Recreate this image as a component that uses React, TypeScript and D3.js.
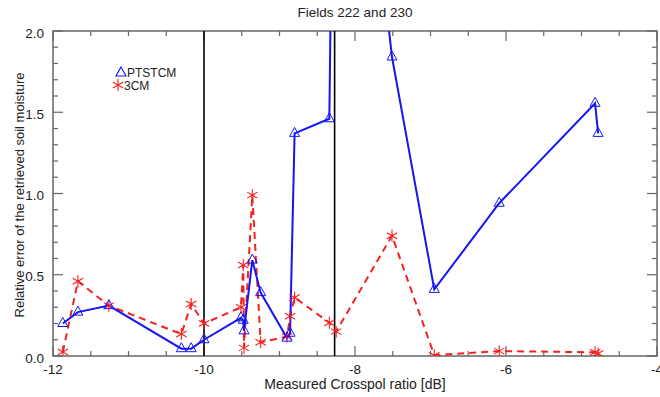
import React from "react";
import * as d3 from "d3";

const crosspol = [-11.87, -11.67, -11.26, -10.3, -10.17, -10.0, -9.51, -9.48, -9.47, -9.36, -9.25, -8.9, -8.86, -8.8, -8.34, -8.25, -7.51, -6.95, -6.09, -4.82, -4.78];
const ptstcm = [0.2, 0.27, 0.31, 0.045, 0.045, 0.1, 0.235, 0.22, 0.155, 0.59, 0.39, 0.11, 0.14, 1.37, 1.46, 4.9, 1.84, 0.41, 0.94, 1.555, 1.37];
const cm3 = [0.025, 0.46, 0.31, 0.135, 0.32, 0.2, 0.3, 0.56, 0.05, 0.99, 0.085, 0.12, 0.245, 0.36, 0.205, 0.15, 0.74, 0.005, 0.03, 0.023, 0.015];
const refLines = [-10.0, -8.27];
const xTicks = [-12, -10, -8, -6, -4];
const yTicks = [0, 0.5, 1.0, 1.5, 2.0];
const seriesNames = ["PTSTCM", "3CM"];
const title = "Fields 222 and 230";
const xTitle = "Measured Crosspol ratio [dB]";
const yTitle = "Relative error of the retrieved soil moisture";

const W = 660, H = 397;
const L = 53, R = 657, T = 31, B = 356;
const BLUE = "#1515f5";
const RED = "#f52020";
const FONT = "'Liberation Sans', Arial, Helvetica, sans-serif";

function triPath(cx: number, cy: number) {
  return `M${cx},${cy - 6}L${cx + 5},${cy + 3}L${cx - 5},${cy + 3}Z`;
}
function starPath(cx: number, cy: number) {
  const r = 6;
  let p = "";
  for (const a of [90, 30, 150]) {
    const rad = (a * Math.PI) / 180;
    const dx = r * Math.cos(rad), dy = r * Math.sin(rad);
    p += `M${cx - dx},${cy - dy}L${cx + dx},${cy + dy}`;
  }
  return p;
}

export default function App() {
  const x = d3.scaleLinear().domain([-12, -4]).range([L, R]);
  const y = d3.scaleLinear().domain([0, 2]).range([B, T]);
  const blueData = crosspol.map((c, i) => [c, ptstcm[i]] as [number, number]);
  const redData = crosspol.map((c, i) => [c, cm3[i]] as [number, number]);
  const line = d3.line<[number, number]>().x((d) => x(d[0])).y((d) => y(d[1]));

  const xMinor = d3.range(-12, -4 + 0.001, 0.5);
  const yMinor = d3.range(0, 2.0001, 0.1);
  const frame = "#666";

  return (
    <svg width={W} height={H} style={{ position: "absolute", left: 0, top: 0, background: "#fff" }} fontFamily={FONT}>
      <defs>
        <clipPath id="plotclip">
          <rect x={L} y={T} width={R - L} height={B - T} />
        </clipPath>
      </defs>
      <rect x={0} y={0} width={W} height={H} fill="#fff" />
      {xMinor.map((v, i) => {
        const major = xTicks.some((t) => Math.abs(t - v) < 1e-6);
        const len = major ? 10 : 5;
        return (
          <g key={"xt" + i} stroke={frame} strokeWidth={1.2}>
            <line x1={x(v)} x2={x(v)} y1={B} y2={B - len} />
            <line x1={x(v)} x2={x(v)} y1={T} y2={T + len} />
          </g>
        );
      })}
      {yMinor.map((v, i) => {
        const major = yTicks.some((t) => Math.abs(t - v) < 1e-6);
        const len = major ? 10 : 5;
        return (
          <g key={"yt" + i} stroke={frame} strokeWidth={1.2}>
            <line x1={L} x2={L + len} y1={y(v)} y2={y(v)} />
            <line x1={R} x2={R - len} y1={y(v)} y2={y(v)} />
          </g>
        );
      })}
      <rect x={L} y={T} width={R - L} height={B - T} fill="none" stroke={frame} strokeWidth={1.5} />
      {xTicks.map((v) => (
        <text key={"xl" + v} x={x(v)} y={B + 18} textAnchor="middle" fontSize={13.5} fill="#222">
          {v}
        </text>
      ))}
      {yTicks.map((v) => (
        <text key={"yl" + v} x={L - 9} y={y(v) + 6.5} textAnchor="end" fontSize={13.5} fill="#222">
          {v.toFixed(1)}
        </text>
      ))}
      {refLines.map((v) => (
        <line key={"rl" + v} x1={x(v)} x2={x(v)} y1={T} y2={B} stroke="#000" strokeWidth={1.6} />
      ))}
      <g clipPath="url(#plotclip)">
        <path d={line(redData) || ""} fill="none" stroke={RED} strokeWidth={2} strokeDasharray="7,5" />
        <path d={line(blueData) || ""} fill="none" stroke={BLUE} strokeWidth={2} />
        {redData.map((d, i) => (
          <path key={"s" + i} d={starPath(x(d[0]), y(d[1]))} stroke={RED} strokeWidth={1.1} fill="none" />
        ))}
        {blueData.map((d, i) => (
          <path key={"t" + i} d={triPath(x(d[0]), y(d[1]))} stroke={BLUE} strokeWidth={1} fill="none" />
        ))}
      </g>
      <path d={triPath(121, 73)} stroke={BLUE} strokeWidth={1.1} fill="none" />
      <text x={127} y={77} fontSize={12} fill="#222">{seriesNames[0]}</text>
      <path d={starPath(118, 85)} stroke={RED} strokeWidth={1.1} fill="none" />
      <text x={124} y={90} fontSize={12} fill="#222">{seriesNames[1]}</text>
      <text x={(L + R) / 2} y={17} textAnchor="middle" fontSize={13.5} fill="#222">{title}</text>
      <text x={(L + R) / 2} y={389} textAnchor="middle" fontSize={14} fill="#222">{xTitle}</text>
      <text transform={`translate(24,195) rotate(-90)`} textAnchor="middle" fontSize={13} fill="#222">{yTitle}</text>
    </svg>
  );
}
